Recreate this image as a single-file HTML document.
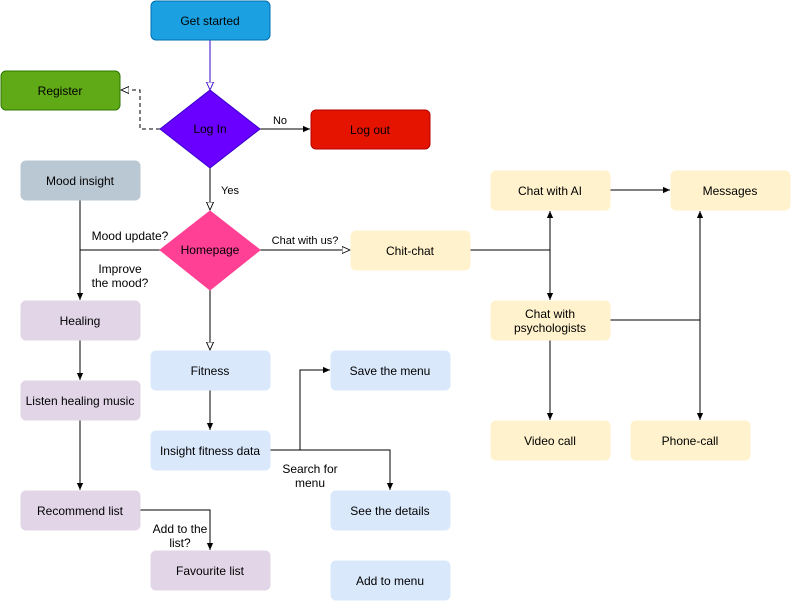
<!DOCTYPE html>
<html><head><meta charset="utf-8"><style>
body{margin:0;background:#fff;}
svg text{font-family:"Liberation Sans",Arial,sans-serif;font-size:12px;fill:#000;}
</style></head><body>
<svg width="791" height="601" viewBox="0 0 791 601" xmlns="http://www.w3.org/2000/svg">
<defs>
<marker id="a" viewBox="0 0 10 10" refX="9" refY="5" markerWidth="8" markerHeight="8" orient="auto"><path d="M0,1 L9,5 L0,9 z" fill="#000"/></marker>
<marker id="h" viewBox="0 0 10 10" refX="9" refY="5" markerWidth="9" markerHeight="9" orient="auto"><path d="M0,1 L9,5 L0,9 z" fill="#fff" stroke="#000"/></marker>
<marker id="hp" viewBox="0 0 10 10" refX="9" refY="5" markerWidth="9" markerHeight="9" orient="auto"><path d="M0,1 L9,5 L0,9 z" fill="#fff" stroke="#3700cc"/></marker>
</defs>
<g fill="none" stroke="#000">
<path d="M210,40 V90" stroke="#3700cc" marker-end="url(#hp)"/>
<path d="M160,129 H140 V90 H121" stroke-dasharray="4,3" marker-end="url(#h)"/>
<path d="M260,129 H310" marker-end="url(#a)"/>
<path d="M210,168 V210" marker-end="url(#h)"/>
<path d="M260,250 H350" marker-end="url(#h)"/>
<path d="M160,250 H80"/>
<path d="M80,200 V300" marker-end="url(#a)"/>
<path d="M210,290 V350" marker-end="url(#h)"/>
<path d="M470,250 H550 V211" marker-end="url(#a)"/>
<path d="M550,250 V300" marker-end="url(#a)"/>
<path d="M610,190 H670" marker-end="url(#a)"/>
<path d="M610,320 H700 V211" marker-end="url(#a)"/>
<path d="M700,320 V420" marker-end="url(#a)"/>
<path d="M550,340 V420" marker-end="url(#a)"/>
<path d="M80,340 V380" marker-end="url(#a)"/>
<path d="M80,420 V490" marker-end="url(#a)"/>
<path d="M140,510 H210 V550" marker-end="url(#a)"/>
<path d="M210,390 V430" marker-end="url(#a)"/>
<path d="M270,450 H300 V370 H330" marker-end="url(#a)"/>
<path d="M300,450 H390 V490" marker-end="url(#a)"/>
</g>
<g stroke-width="1">
<rect x="151" y="1" width="119" height="39" rx="5" fill="#1ba1e2" stroke="#006eaf"/>
<rect x="1" y="71" width="119" height="39" rx="5" fill="#60a917" stroke="#2d7600"/>
<path d="M210,90 L260,129 L210,168 L160,129 z" fill="#6a00ff" stroke="#3700cc"/>
<rect x="311" y="110" width="119" height="39" rx="5" fill="#e51400" stroke="#b20000"/>
<rect x="21" y="161" width="119" height="39" rx="5" fill="#bac8d3" stroke="#bac8d3"/>
<path d="M210,211 L260,250 L210,290 L160,250 z" fill="#ff4094" stroke="#ff4094"/>
<g fill="#fff2cc" stroke="#fff2cc">
<rect x="351" y="231" width="119" height="39" rx="5"/>
<rect x="491" y="171" width="119" height="39" rx="5"/>
<rect x="671" y="171" width="119" height="39" rx="5"/>
<rect x="491" y="301" width="119" height="39" rx="5"/>
<rect x="491" y="421" width="119" height="39" rx="5"/>
<rect x="631" y="421" width="119" height="39" rx="5"/>
</g>
<g fill="#e1d5e7" stroke="#e1d5e7">
<rect x="21" y="301" width="119" height="39" rx="5"/>
<rect x="21" y="381" width="119" height="39" rx="5"/>
<rect x="21" y="491" width="119" height="39" rx="5"/>
<rect x="151" y="551" width="119" height="39" rx="5"/>
</g>
<g fill="#dae8fc" stroke="#dae8fc">
<rect x="151" y="351" width="119" height="39" rx="5"/>
<rect x="151" y="431" width="119" height="39" rx="5"/>
<rect x="331" y="351" width="119" height="39" rx="5"/>
<rect x="331" y="491" width="119" height="39" rx="5"/>
<rect x="331" y="561" width="119" height="39" rx="5"/>
</g>
</g>
<g text-anchor="middle">
<text x="210" y="25">Get started</text>
<text x="60" y="95">Register</text>
<text x="210" y="133">Log In</text>
<text x="370" y="134">Log out</text>
<text x="80" y="185">Mood insight</text>
<text x="210" y="254">Homepage</text>
<text x="410" y="255">Chit-chat</text>
<text x="550" y="195">Chat with AI</text>
<text x="730" y="195">Messages</text>
<text x="550" y="318">Chat with</text>
<text x="550" y="332">psychologists</text>
<text x="550" y="445">Video call</text>
<text x="690" y="445">Phone-call</text>
<text x="80" y="325">Healing</text>
<text x="80" y="405">Listen healing music</text>
<text x="80" y="515">Recommend list</text>
<text x="210" y="575">Favourite list</text>
<text x="210" y="375">Fitness</text>
<text x="210" y="455">Insight fitness data</text>
<text x="390" y="375">Save the menu</text>
<text x="390" y="515">See the details</text>
<text x="390" y="585">Add to menu</text>
</g>
<g text-anchor="middle" style="font-size:11px">
<rect x="272" y="114" width="18" height="12" fill="#fff"/>
<text x="280" y="124" style="font-size:11px">No</text>
<text x="230" y="194" style="font-size:11px">Yes</text>
<rect x="271" y="233" width="68" height="13" fill="#fff"/>
<text x="305" y="244" style="font-size:11px">Chat with us?</text>
<rect x="90" y="228" width="80" height="14" fill="#fff"/>
<text x="130" y="240" style="font-size:12px">Mood update?</text>
<text x="120" y="273" style="font-size:12px">Improve</text>
<text x="120" y="287" style="font-size:12px">the mood?</text>
<text x="180" y="533" style="font-size:12px">Add to the</text>
<text x="180" y="547" style="font-size:12px">list?</text>
<text x="310" y="473" style="font-size:12px">Search for</text>
<text x="310" y="487" style="font-size:12px">menu</text>
</g>
</svg>
</body></html>
